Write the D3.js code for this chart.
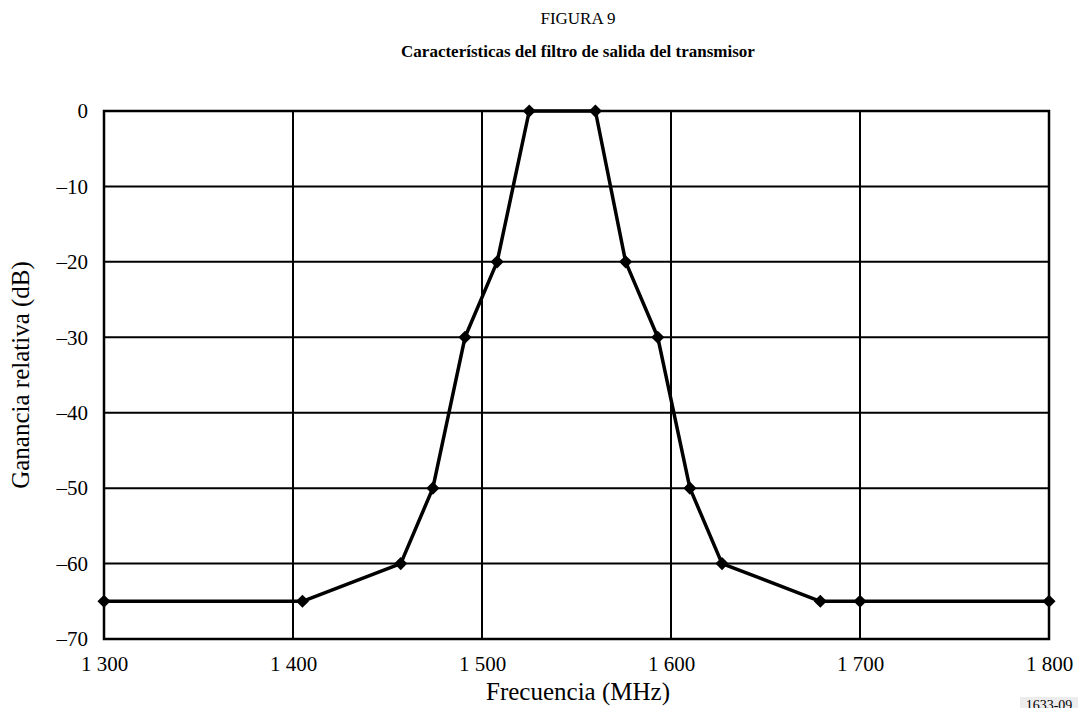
<!DOCTYPE html>
<html>
<head>
<meta charset="utf-8">
<script src="https://cdn.jsdelivr.net/npm/d3@7"></script>
<style>
  html, body { margin: 0; padding: 0; background: #fff; }
  svg { display: block; font-family: "Liberation Serif", "Times New Roman", serif; }
</style>
</head>
<body>
<svg id="chart" width="1078" height="708"></svg>
<script>
// Transmitter output filter response: frequency (MHz) vs relative gain (dB)
const frequency = [1300, 1405, 1457, 1474, 1491, 1508, 1525, 1560, 1576, 1593, 1610, 1627, 1679, 1700, 1800];
const gain      = [-65, -65, -60, -50, -30, -20, 0, 0, -20, -30, -50, -60, -65, -65, -65];
const xTicks = [1300, 1400, 1500, 1600, 1700, 1800];
const yTicks = [0, -10, -20, -30, -40, -50, -60, -70];

const svg = d3.select("#chart");
const margin = { left: 104, right: 29, top: 111, bottom: 69 };
const W = 1078, H = 708;

const x = d3.scaleLinear().domain([1300, 1800]).range([margin.left, W - margin.right]);
const y = d3.scaleLinear().domain([-70, 0]).range([H - margin.bottom, margin.top]);

const fmtX = d => {
  const s = String(d);
  return s.length > 3 ? s.slice(0, s.length - 3) + " " + s.slice(-3) : s;
};
const fmtY = d => d < 0 ? "\u2013" + Math.abs(d) : String(d);

// Grid lines
const grid = svg.append("g").attr("stroke", "#000").attr("stroke-width", 2);
grid.selectAll("line.vx").data(xTicks.slice(1, -1)).join("line")
  .attr("x1", d => x(d)).attr("x2", d => x(d))
  .attr("y1", y(0)).attr("y2", y(-70));
grid.selectAll("line.hy").data(yTicks.slice(1, -1)).join("line")
  .attr("x1", x(1300)).attr("x2", x(1800))
  .attr("y1", d => y(d)).attr("y2", d => y(d));

// Frame
svg.append("rect")
  .attr("x", x(1300)).attr("y", y(0))
  .attr("width", x(1800) - x(1300)).attr("height", y(-70) - y(0))
  .attr("fill", "none").attr("stroke", "#000").attr("stroke-width", 2.5);

// Axes (labels only, the frame draws the lines)
const xAxis = svg.append("g")
  .attr("transform", `translate(0,${y(-70)})`)
  .call(d3.axisBottom(x).tickValues(xTicks).tickFormat(fmtX).tickSize(0).tickPadding(17));
xAxis.select(".domain").remove();
xAxis.selectAll("text").attr("font-size", 21).attr("font-family", "Liberation Serif").attr("fill", "#000");

const yAxis = svg.append("g")
  .attr("transform", `translate(${x(1300)},0)`)
  .call(d3.axisLeft(y).tickValues(yTicks).tickFormat(fmtY).tickSize(0).tickPadding(16));
yAxis.select(".domain").remove();
yAxis.selectAll("text").attr("font-size", 21).attr("font-family", "Liberation Serif").attr("fill", "#000");

// Response curve
const pts = frequency.map((f, i) => [f, gain[i]]);
svg.append("path")
  .datum(pts)
  .attr("fill", "none").attr("stroke", "#000").attr("stroke-width", 3.5)
  .attr("stroke-linejoin", "round")
  .attr("d", d3.line().x(d => x(d[0])).y(d => y(d[1])));

// Diamond markers
svg.append("g").selectAll("path").data(pts).join("path")
  .attr("transform", d => `translate(${x(d[0])},${y(d[1])})`)
  .attr("d", d3.symbol(d3.symbolDiamond2, 110)())
  .attr("fill", "#000");

// Titles
svg.append("text").attr("x", 578).attr("y", 24).attr("text-anchor", "middle")
  .attr("font-size", 17).text("FIGURA 9");
svg.append("text").attr("x", 578).attr("y", 57).attr("text-anchor", "middle")
  .attr("font-size", 17).attr("font-weight", "bold")
  .text("Características del filtro de salida del transmisor");

// Axis titles
svg.append("text").attr("x", 578).attr("y", 700).attr("text-anchor", "middle")
  .attr("font-size", 25).text("Frecuencia (MHz)");
svg.append("text")
  .attr("transform", `translate(29,${(y(0) + y(-70)) / 2}) rotate(-90)`)
  .attr("text-anchor", "middle").attr("font-size", 25)
  .text("Ganancia relativa (dB)");

// Figure reference tag
svg.append("rect").attr("x", 1020).attr("y", 697).attr("width", 58).attr("height", 11).attr("fill", "#ececec");
svg.append("text").attr("x", 1049).attr("y", 710).attr("text-anchor", "middle")
  .attr("font-size", 14).text("1633-09");
</script>
</body>
</html>
